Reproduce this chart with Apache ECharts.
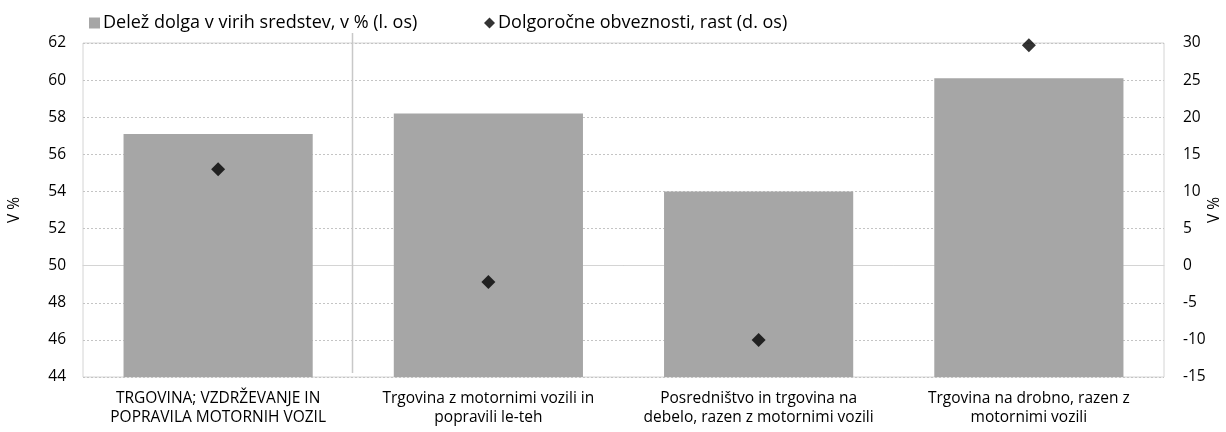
<!DOCTYPE html>
<html>
<head>
<meta charset="utf-8">
<script src="https://cdn.jsdelivr.net/npm/echarts@6/dist/echarts.min.js"></script>
<style>
  html, body { margin: 0; padding: 0; background: #fff; }
  #chart { width: 1226px; height: 432px; }
</style>
</head>
<body>
<div id="chart"></div>
<script>
const categories = [
  'TRGOVINA; VZDRŽEVANJE IN\nPOPRAVILA MOTORNIH VOZIL',
  'Trgovina z motornimi vozili in\npopravili le-teh',
  'Posredništvo in trgovina na\ndebelo, razen z motornimi vozili',
  'Trgovina na drobno, razen z\nmotornimi vozili'
]
const debtShare = [57.1, 58.2, 54.0, 60.1]
const longTermGrowth = [13.0, -2.2, -10.0, 29.7]
const barName = 'Delež dolga v virih sredstev, v % (l. os)'
const dotName = 'Dolgoročne obveznosti, rast (d. os)'

const font = 'Open Sans'
const chart = echarts.init(document.getElementById('chart'))

const option = {
  animation: false,
  textStyle: { fontFamily: font, color: '#000' },
  legend: [
    {
      data: [{ name: barName, icon: 'rect' }],
      left: 84, top: 9,
      itemWidth: 11, itemHeight: 11, itemGap: 4,
      textStyle: { fontFamily: font, fontSize: 18, color: '#000', padding: [0, 0, 0, -2] }
    },
    {
      data: [{ name: dotName, icon: 'diamond' }],
      left: 479, top: 9,
      itemWidth: 11, itemHeight: 11,
      textStyle: { fontFamily: font, fontSize: 18, color: '#000', padding: [0, 0, 0, -2] }
    }
  ],
  grid: {
    left: 83, right: 62, top: 43, bottom: 55,
    outerBoundsMode: 'none',
    show: true, borderColor: '#d4d4d4', borderWidth: 1
  },
  xAxis: {
    type: 'category',
    data: categories,
    axisTick: { show: false },
    axisLine: { lineStyle: { color: '#d4d4d4' } },
    axisLabel: { fontFamily: font, fontSize: 15.5, color: '#000', lineHeight: 19, margin: 12, interval: 0 }
  },
  yAxis: [
    {
      type: 'value', min: 44, max: 62, interval: 2,
      name: 'V %', nameLocation: 'middle', nameGap: 60, nameMoveOverlap: false,
      nameTextStyle: { fontFamily: font, fontSize: 15.5, color: '#000' },
      axisLine: { show: false }, axisTick: { show: false },
      axisLabel: { fontFamily: font, fontSize: 15.5, color: '#000', margin: 17 },
      splitLine: { lineStyle: { color: '#c4c4c4', type: [2, 2], width: 1 } }
    },
    {
      type: 'value', min: -15, max: 30, interval: 5,
      name: 'V %', nameLocation: 'middle', nameGap: 43, nameRotate: 90, nameMoveOverlap: false,
      nameTextStyle: { fontFamily: font, fontSize: 15.5, color: '#000' },
      axisLine: { show: false }, axisTick: { show: false },
      axisLabel: { fontFamily: font, fontSize: 15.5, color: '#000', margin: 19 },
      splitLine: { show: false }
    }
  ],
  series: [
    {
      name: barName,
      type: 'bar',
      data: debtShare,
      barWidth: '70%',
      itemStyle: { color: '#a6a6a6' },
      yAxisIndex: 0
    },
    {
      name: dotName,
      type: 'scatter',
      data: longTermGrowth,
      yAxisIndex: 1,
      symbol: 'diamond',
      symbolSize: 14,
      itemStyle: { color: '#000' },
      z: 5
    }
  ]
}
chart.setOption(option)

// separator between the first (aggregate) category and the rest
const x0 = chart.convertToPixel({ xAxisIndex: 0 }, 0)
const x1 = chart.convertToPixel({ xAxisIndex: 0 }, 1)
const sepX = Math.round((x0 + x1) / 2) - 0.5
chart.setOption({
  graphic: [{
    type: 'line',
    shape: { x1: sepX, y1: 33, x2: sepX, y2: 373 },
    style: { stroke: '#c8c8c8', lineWidth: 1.5 },
    z: 10
  }]
})
</script>
</body>
</html>
